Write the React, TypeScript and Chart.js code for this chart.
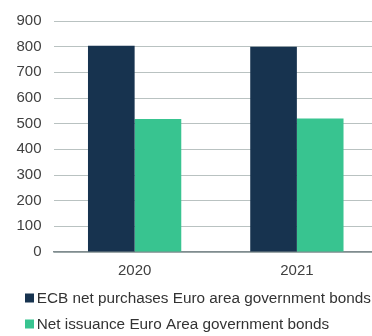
import React, { useEffect, useRef } from "react";
import { Chart, registerables } from "chart.js";

Chart.register(...registerables);

const categories = ["2020", "2021"];
const ecbPurchases = [804, 800];
const netIssuance = [518, 520];
const seriesLabels = [
  "ECB net purchases Euro area government bonds",
  "Net issuance Euro Area government bonds",
];
const seriesColors = ["#17334f", "#38c490"];

const FONT = "'Liberation Sans', Arial, sans-serif";

const bottomLegend = {
  id: "bottomLegend",
  afterDraw(chart: any) {
    const ctx = chart.ctx;
    ctx.save();
    ctx.font = `15.3px ${FONT}`;
    ctx.textBaseline = "middle";
    ctx.textAlign = "left";
    chart.data.datasets.forEach((ds: any, i: number) => {
      const cy = 298 + 26 * i;
      ctx.fillStyle = ds.backgroundColor;
      ctx.fillRect(25, cy - 4.5, 9, 9);
      ctx.fillStyle = "#333333";
      ctx.fillText(ds.label, 36.7, cy + 0.5);
    });
    ctx.restore();
  },
};

export default function App() {
  const ref = useRef<HTMLCanvasElement | null>(null);
  useEffect(() => {
    document.body.style.margin = "0";
    if (!ref.current) return;
    const chart = new Chart(ref.current, {
      type: "bar",
      data: {
        labels: categories,
        datasets: [
          {
            label: seriesLabels[0],
            data: ecbPurchases,
            backgroundColor: seriesColors[0],
            categoryPercentage: 0.575,
            barPercentage: 1,
          },
          {
            label: seriesLabels[1],
            data: netIssuance,
            backgroundColor: seriesColors[1],
            categoryPercentage: 0.575,
            barPercentage: 1,
          },
        ],
      },
      options: {
        animation: false,
        responsive: false,
        layout: { padding: { top: 12, left: 15, right: 0, bottom: 56 } },
        plugins: {
          tooltip: { enabled: false },
          legend: { display: false },
        },
        scales: {
          x: {
            afterFit: (s: any) => {
              s.height = 28;
            },
            grid: { display: false, drawTicks: false },
            border: { display: true, color: "#808c8f", width: 1.5 },
            ticks: {
              color: "#404040",
              padding: 10,
              font: { family: FONT, size: 15 },
            },
          },
          y: {
            min: 0,
            max: 900,
            afterFit: (s: any) => {
              s.width = 38.5;
            },
            ticks: {
              stepSize: 100,
              padding: 12,
              color: "#404040",
              font: { family: FONT, size: 15 },
            },
            grid: { color: "#b9c2c1", drawTicks: false, lineWidth: 1 },
            border: { display: false },
          },
        },
      },
      plugins: [bottomLegend],
    });
    return () => chart.destroy();
  }, []);
  return (
    <div style={{ width: 372, height: 336, overflow: "hidden" }}>
      <canvas ref={ref} width={378} height={336} style={{ display: "block" }} />
    </div>
  );
}
